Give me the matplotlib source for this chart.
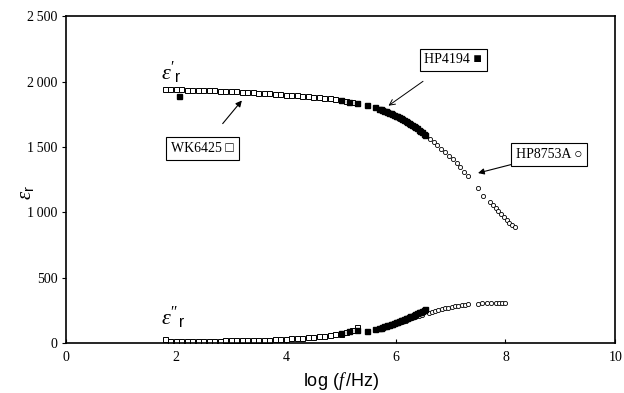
import numpy as np
import matplotlib
matplotlib.use('Agg')
import matplotlib.pyplot as plt

plt.rcParams['mathtext.fontset'] = 'custom'
plt.rcParams['mathtext.rm'] = 'Liberation Serif'
plt.rcParams['mathtext.it'] = 'Liberation Serif:italic'
plt.rcParams['mathtext.sf'] = 'Liberation Sans'
plt.rcParams['mathtext.fallback'] = 'stix'

# WK6425 (open squares)
wk_x = [1.80, 1.90, 2.00, 2.10, 2.20, 2.30, 2.40, 2.50, 2.60, 2.70, 2.80, 2.90,
        3.00, 3.10, 3.20, 3.30, 3.40, 3.50, 3.60, 3.70, 3.80, 3.90, 4.00, 4.10,
        4.20, 4.30, 4.40, 4.50, 4.60, 4.70, 4.80, 4.90, 5.00, 5.10, 5.20, 5.30]
wk_e1 = [1942, 1940, 1940, 1939, 1938, 1937, 1936, 1935, 1934, 1932, 1930, 1928,
         1926, 1924, 1922, 1920, 1918, 1915, 1912, 1909, 1906, 1903, 1900, 1897,
         1894, 1891, 1888, 1884, 1880, 1876, 1871, 1866, 1860, 1853, 1846, 1838]
wk_e2 = [32, 18, 16, 16, 16, 17, 17, 18, 18, 19, 19, 20,
         20, 21, 22, 23, 24, 25, 26, 27, 29, 31, 33, 36,
         38, 41, 44, 47, 51, 55, 60, 66, 72, 85, 100, 122]

# HP4194 (filled squares)
hp41_x = [2.05, 5.00, 5.15, 5.30, 5.47, 5.63, 5.70, 5.73, 5.76, 5.79, 5.82, 5.85,
          5.88, 5.91, 5.94, 5.97, 6.00, 6.03, 6.06, 6.09, 6.12, 6.15, 6.18, 6.21,
          6.24, 6.27, 6.30, 6.33, 6.36, 6.39, 6.42, 6.45, 6.48, 6.51, 6.54]
hp41_e1 = [1890, 1855, 1846, 1836, 1822, 1803, 1792, 1788, 1783, 1778, 1773, 1768,
           1763, 1758, 1752, 1746, 1740, 1734, 1728, 1722, 1715, 1708, 1701, 1694,
           1686, 1678, 1670, 1661, 1652, 1643, 1633, 1623, 1613, 1602, 1592]
hp41_e2 = [np.nan, 76, 90, 102, 94, 108, 115, 119, 123, 127, 131, 135,
           139, 143, 148, 153, 158, 163, 168, 173, 178, 184, 190, 195,
           200, 205, 210, 216, 222, 228, 234, 241, 248, 255, 262]

# HP8753A (open circles), real part
hp87_x1 = [6.00, 6.06, 6.12, 6.18, 6.24, 6.30, 6.36, 6.42, 6.48, 6.54, 6.62, 6.69,
           6.76, 6.83, 6.90, 6.97, 7.04, 7.11, 7.18, 7.25, 7.32, 7.50, 7.60, 7.72,
           7.77, 7.82, 7.87, 7.92, 7.97, 8.02, 8.07, 8.12, 8.17]
hp87_e1 = [1728, 1716, 1703, 1690, 1676, 1662, 1647, 1632, 1616, 1598, 1562, 1538,
           1512, 1487, 1460, 1433, 1404, 1374, 1343, 1310, 1275, 1185, 1128, 1078,
           1055, 1032, 1008, 985, 962, 940, 920, 903, 888]
# HP8753A (open circles), imaginary part
hp87_x2 = [6.00, 6.06, 6.12, 6.18, 6.24, 6.30, 6.36, 6.42, 6.48, 6.60, 6.66, 6.72,
           6.78, 6.84, 6.90, 6.96, 7.02, 7.08, 7.14, 7.20, 7.26, 7.32, 7.50, 7.58,
           7.66, 7.74, 7.82, 7.88, 7.94, 8.00]
hp87_e2 = [148, 155, 163, 172, 181, 191, 200, 208, 216, 232, 240, 247,
           254, 261, 267, 272, 277, 282, 286, 290, 294, 298, 302, 303,
           304, 305, 305, 305, 306, 306]

yticks = [0, 500, 1000, 1500, 2000, 2500]
ytick_labels = ['0', '500', '1\u2009000', '1\u2009500', '2\u2009000', '2\u2009500']
xticks = [0, 2, 4, 6, 8, 10]

fig = plt.figure(figsize=(6.24, 3.93), dpi=100)
ax = fig.add_axes([0.106, 0.127, 0.880, 0.832])

ax.plot(wk_x, wk_e1, 's', ms=3.6, mfc='white', mec='black', mew=0.7, ls='none')
ax.plot(wk_x, wk_e2, 's', ms=3.6, mfc='white', mec='black', mew=0.7, ls='none')
ax.plot(hp87_x1, hp87_e1, 'o', ms=3.0, mfc='white', mec='black', mew=0.6, ls='none')
ax.plot(hp87_x2, hp87_e2, 'o', ms=3.0, mfc='white', mec='black', mew=0.6, ls='none')
ax.plot(hp41_x, hp41_e1, 's', ms=3.6, color='black', ls='none')
ax.plot(hp41_x, hp41_e2, 's', ms=3.6, color='black', ls='none')

ax.set_xlim(0, 10)
ax.set_ylim(0, 2500)
ax.set_xticks(xticks)
ax.set_xticklabels([str(v) for v in xticks], family='Liberation Serif', fontsize=10)
ax.set_yticks(yticks)
ax.set_yticklabels(ytick_labels, family=['Liberation Serif', 'DejaVu Sans'], fontsize=10)
ax.tick_params(axis='x', direction='in', length=3, width=0.8, pad=6)
ax.tick_params(axis='y', direction='out', length=3, width=0.8, pad=3)
for s in ax.spines.values():
    s.set_linewidth(1.2)

ax.set_xlabel(r'log ($\mathit{f}\,$/Hz)', family='Liberation Sans', fontsize=13, labelpad=4)
ax.set_ylabel(r'$\varepsilon_{\mathsf{r}}$', fontsize=15)
ax.yaxis.set_label_coords(-0.055, 0.46)

ax.text(1.72, 2010, r"$\varepsilon'_{\mathsf{r}}$", fontsize=16)
ax.text(1.72, 140, r"$\varepsilon''_{\mathsf{r}}$", fontsize=16)

box = dict(boxstyle='square,pad=0.35', fc='white', ec='black', lw=0.8)
fam = ['Liberation Serif', 'DejaVu Sans']
ax.annotate('WK6425 \u25a1', xy=(3.2, 1855), xytext=(2.48, 1490), ha='center', va='center',
            family=fam, fontsize=10, bbox=box,
            arrowprops=dict(arrowstyle='-|>', color='black', lw=0.8, mutation_scale=9,
                            shrinkA=12, shrinkB=0))
ax.annotate('HP4194 \u25a0', xy=(5.87, 1815), xytext=(7.05, 2165), ha='center', va='center',
            family=fam, fontsize=10, bbox=box,
            arrowprops=dict(arrowstyle='->', color='black', lw=0.7, mutation_scale=10,
                            shrinkA=12, shrinkB=0))
ax.annotate('HP8753A \u25cb', xy=(7.5, 1300), xytext=(8.8, 1440), ha='center', va='center',
            family=fam, fontsize=10, bbox=box,
            arrowprops=dict(arrowstyle='-|>', color='black', lw=0.8, mutation_scale=9,
                            shrinkA=40, shrinkB=0))

fig.savefig('out.png', dpi=100)
